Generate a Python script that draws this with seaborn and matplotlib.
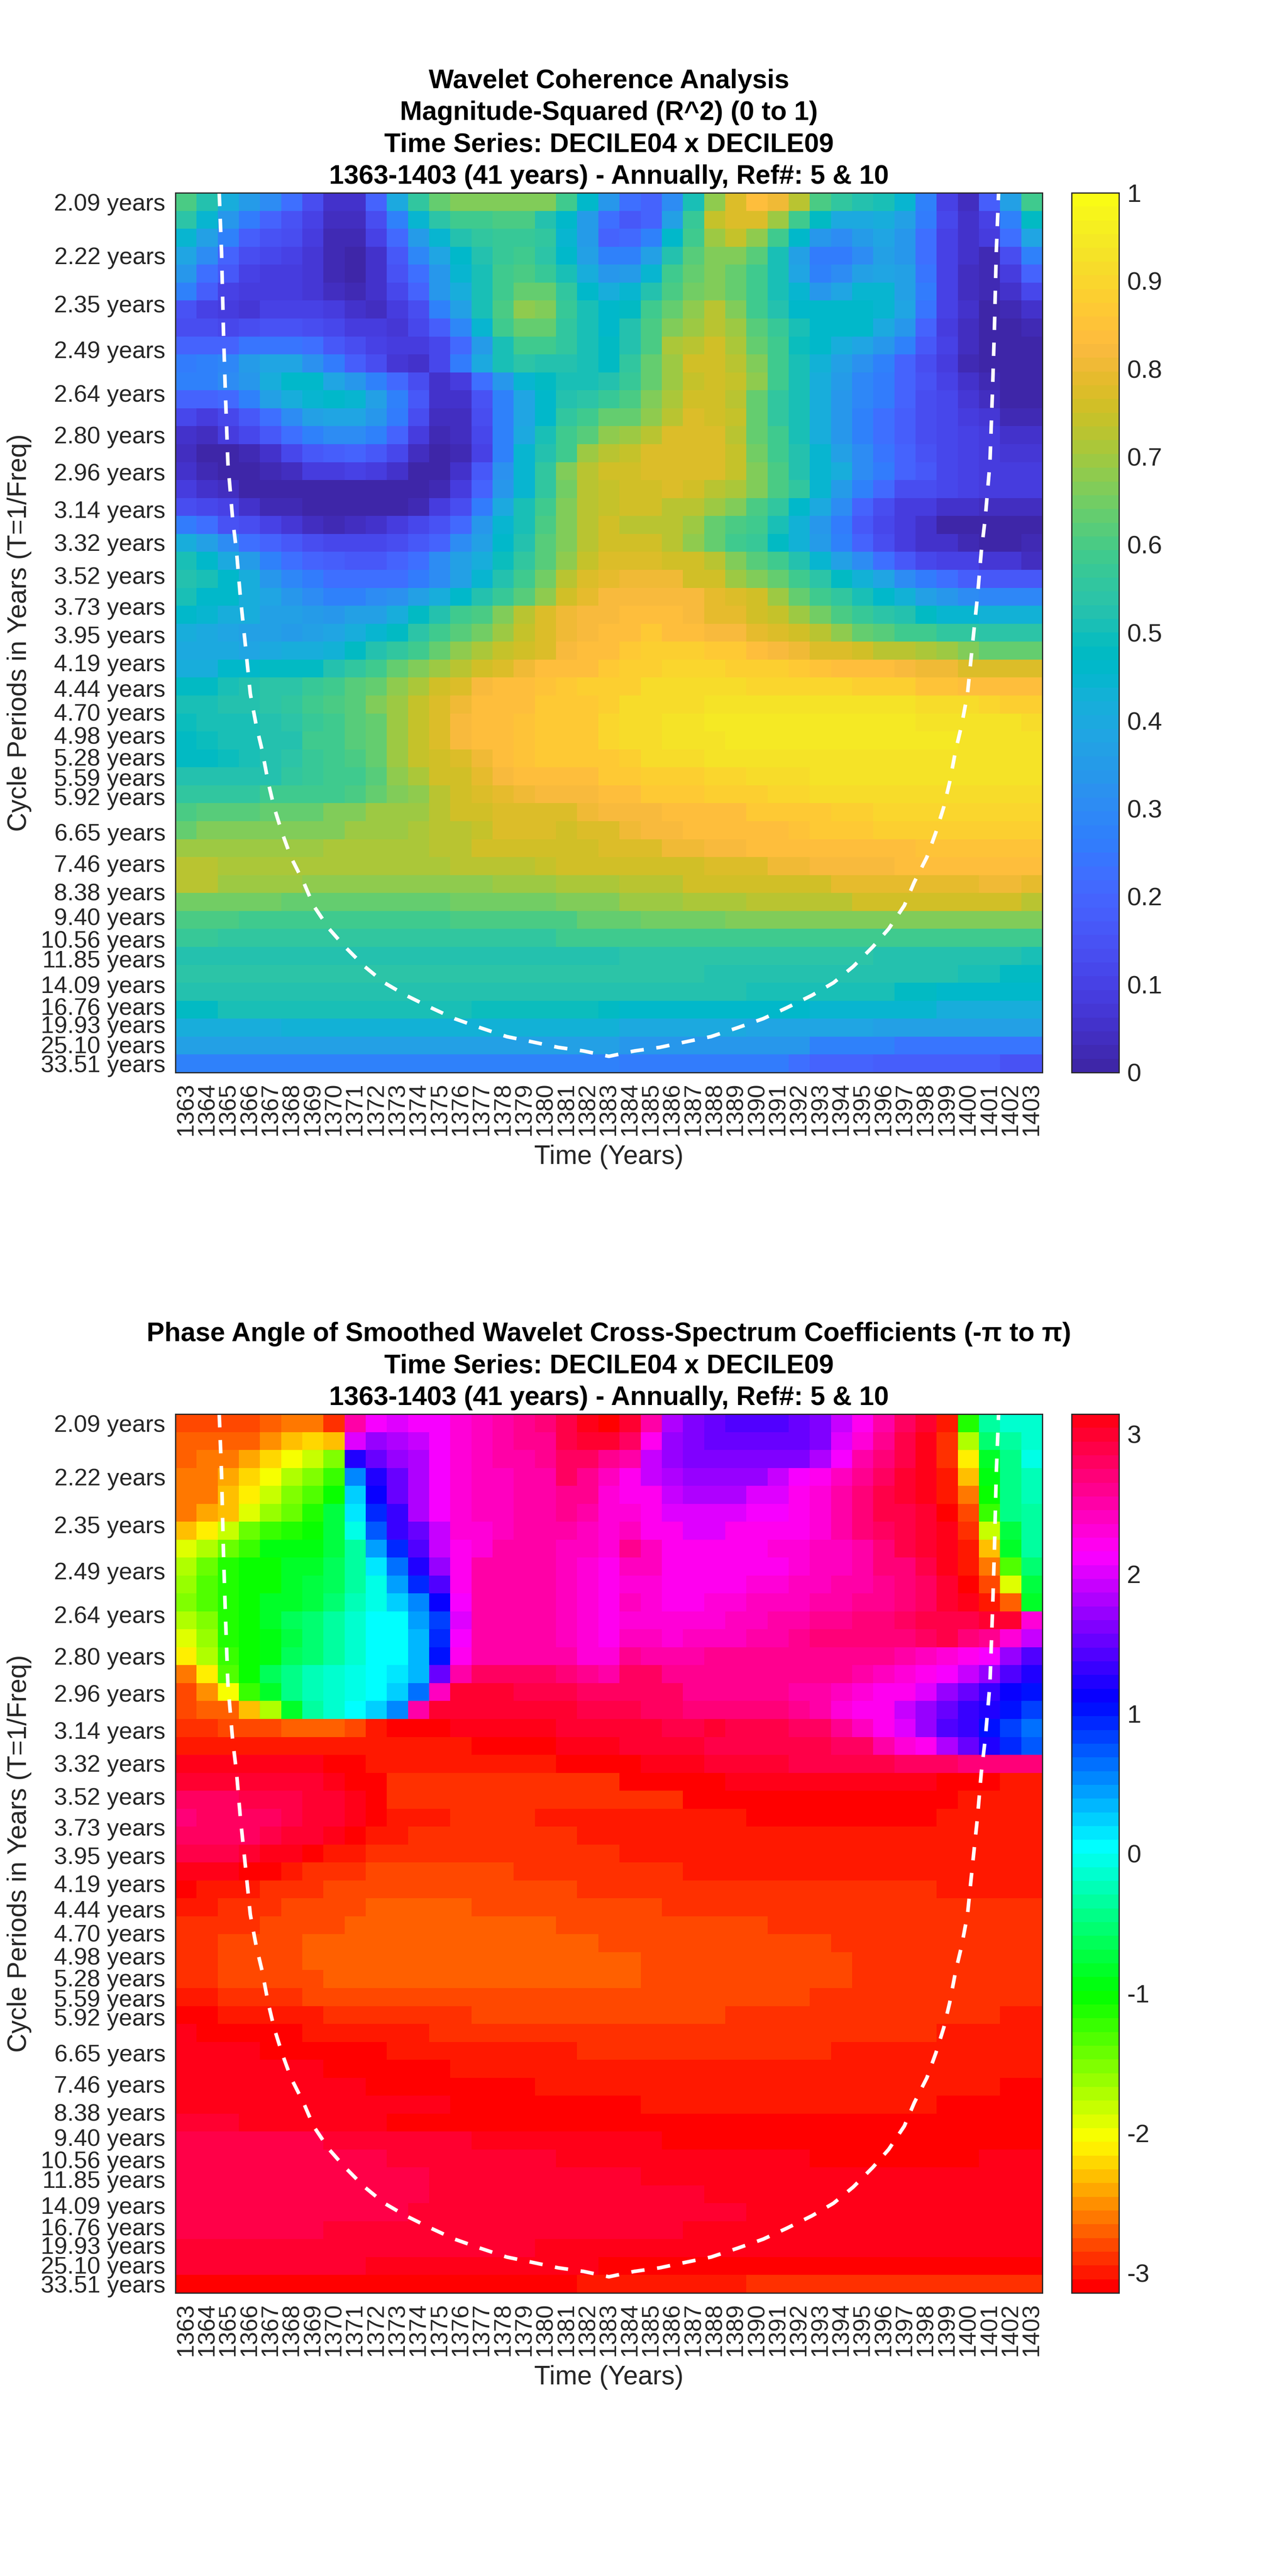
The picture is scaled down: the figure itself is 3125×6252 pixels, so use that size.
import colorsys

import matplotlib.pyplot as plt
import numpy as np
import pandas as pd
import seaborn as sns
from matplotlib.colors import ListedColormap

years = list(range(1363, 1404))

periods = [2.09, 2.22, 2.35, 2.49, 2.64, 2.80, 2.96, 3.14, 3.32, 3.52, 3.73, 3.95, 4.19, 4.44, 4.70, 4.98, 5.28,
           5.59, 5.92, 6.27, 6.65, 7.04, 7.46, 7.90, 8.38, 8.88, 9.40, 9.96, 10.56, 11.18, 11.85, 12.55, 13.30,
           14.09, 14.93, 15.82, 16.76, 17.76, 18.81, 19.93, 21.12, 22.37, 23.70, 25.10, 26.60, 28.18, 29.85,
           31.63, 33.51]
hidden_periods = [6.27, 7.04, 7.90, 8.88, 9.96, 11.18, 12.55, 13.30, 14.93, 15.82, 17.76, 18.81, 21.12, 22.37,
                  23.70, 26.60, 28.18, 29.85, 31.63]

# cone of influence (column, row)
coi_col = [2.07, 2.18, 2.27, 2.36, 2.48, 2.70, 2.89, 3.07, 3.30, 3.54, 3.82, 4.10, 4.38, 4.66, 5.03, 5.46, 6.06,
           6.53, 7.27, 8.02, 8.95, 9.88, 10.9, 12.1, 13.2, 14.4, 15.67, 16.9, 18.1, 19.3, 20.5, 21.7, 22.9, 24.1,
           25.33, 26.6, 27.8, 28.9, 30.1, 31.12, 32.05, 32.98, 33.73, 34.47, 34.94, 35.54, 35.97, 36.34, 36.62,
           36.9, 37.18, 37.46, 37.7, 37.93, 38.11, 38.3, 38.52, 38.64, 38.73, 38.82, 38.93]
coi_row = [0, 3.3, 7.7, 11.08, 15.05, 18.1, 20, 22.5, 25.1, 27.9, 29.66, 31.05, 32.8, 34.2, 35.6, 37.0, 38.4, 39.7,
           41, 42, 43.1, 44, 44.7, 45.4, 46, 46.5, 47, 47.3, 47.6, 47.8, 48.1, 47.8, 47.6, 47.3, 47, 46.5, 46, 45.4,
           44.7, 44, 43.1, 42, 41, 39.7, 38.4, 37.0, 35.6, 34.2, 32.8, 31.05, 29.66, 27.9, 25.1, 22.5, 20, 18.1,
           15.05, 11.08, 7.7, 3.3, 0]

# coherence in percent, one row per period, columns 1363-1403
coherence_pct = [
    [60,52,42,35,30,22,13,5,6,20,40,55,63,66,66,66,66,66,58,46,33,22,20,30,50,68,77,83,80,72,60,55,52,50,44,27,10,4,18,37,59],
    [54,44,34,26,20,15,10,4,4,13,28,44,54,58,59,60,60,53,46,35,22,16,20,37,57,74,77,77,70,58,47,40,40,42,36,25,11,5,10,27,48],
    [44,36,27,18,15,13,8,2,2,10,21,35,44,52,55,57,57,55,45,35,20,21,27,46,59,70,74,68,59,46,33,31,35,38,33,23,10,5,8,22,38],
    [38,30,20,14,11,10,7,3,1,6,16,29,39,46,53,57,59,54,46,37,27,27,37,52,61,67,67,61,50,37,25,25,31,37,33,22,10,5,3,14,28],
    [33,22,17,10,9,9,7,3,1,5,15,22,33,45,51,58,60,57,51,41,33,35,45,58,64,67,64,59,50,38,27,30,36,38,36,24,10,4,3,9,20],
    [27,18,10,8,8,8,7,4,2,5,11,19,33,41,51,59,63,63,55,46,42,45,53,60,65,67,64,59,51,45,33,38,45,45,37,25,10,4,2,5,11],
    [15,10,9,7,10,10,10,9,5,4,9,14,27,36,50,60,68,67,57,51,46,48,58,64,68,72,66,59,52,46,46,46,46,45,39,24,10,6,1,2,5],
    [14,14,11,14,15,15,13,12,9,8,7,11,18,29,44,58,63,63,56,50,46,52,60,67,70,72,70,61,57,50,46,46,46,40,33,20,8,4,1,1,3],
    [20,20,20,24,24,24,23,17,14,10,9,8,12,21,35,50,59,59,55,50,48,53,60,71,73,75,71,64,58,49,46,42,38,33,28,17,10,4,1,0,0],
    [26,27,29,35,38,38,32,26,18,14,7,5,12,26,40,50,54,53,52,50,48,55,63,70,75,76,72,66,59,50,43,36,32,27,20,14,9,3,1,0,0],
    [27,27,30,34,42,46,46,38,33,28,21,13,6,8,22,33,44,47,50,50,53,57,63,70,74,76,74,68,59,50,42,35,29,25,20,15,10,6,3,0,0],
    [20,20,21,28,36,42,45,46,44,36,27,16,6,5,15,28,38,46,52,54,57,60,66,71,75,75,73,64,56,50,41,34,29,25,20,14,11,7,4,1,1],
    [11,9,12,17,23,30,36,38,38,34,26,14,4,4,14,27,38,46,55,58,63,64,68,73,77,75,74,63,56,50,41,34,27,22,18,14,11,8,7,2,2],
    [5,4,8,11,17,22,28,31,31,27,19,9,3,4,12,27,40,50,58,61,68,70,72,78,78,78,73,63,59,50,42,34,27,22,18,14,12,10,8,5,5],
    [4,1,1,3,5,12,17,18,19,16,12,4,0,3,10,28,44,53,59,70,72,74,78,78,78,78,74,65,59,52,44,37,30,24,19,15,12,10,9,7,7],
    [5,2,0,0,2,4,8,9,10,8,5,1,1,6,17,32,45,55,66,73,75,75,78,78,78,78,74,67,60,52,45,41,31,25,20,16,12,10,8,8,8],
    [8,5,4,1,0,0,0,1,1,0,0,0,3,9,19,34,44,55,65,72,74,76,76,78,75,73,71,67,60,55,45,35,28,21,14,13,11,10,9,8,8],
    [14,11,10,6,3,2,0,0,0,0,0,2,9,14,26,40,51,59,66,72,74,76,76,73,72,70,66,60,55,46,40,30,20,14,9,8,6,5,4,4,4],
    [25,22,15,13,10,7,4,3,4,5,8,12,15,21,33,44,51,60,66,72,75,73,73,73,69,64,60,58,50,43,34,25,16,12,8,5,1,1,1,1,1],
    [42,36,30,23,20,16,13,12,11,11,13,16,20,30,37,46,53,61,67,72,75,76,75,72,68,63,59,57,48,43,35,28,19,13,9,6,5,2,0,0,2],
    [51,46,40,35,28,23,20,18,17,17,20,22,30,36,42,49,56,62,68,74,77,77,77,76,76,72,66,61,58,53,45,37,30,23,16,12,10,10,7,7,4],
    [53,50,46,41,34,29,26,23,22,22,23,25,30,36,45,52,59,65,72,77,79,80,80,80,76,75,70,67,63,58,54,47,43,38,31,26,22,18,16,16,16],
    [50,46,46,42,38,33,30,28,28,30,32,36,41,46,52,57,62,68,75,79,82,82,82,82,82,79,77,75,70,63,59,55,50,46,43,37,34,30,29,29,29],
    [46,45,42,42,37,36,35,34,36,37,42,47,52,59,60,66,73,77,81,82,82,83,83,83,82,79,79,76,74,69,65,60,57,54,52,48,45,45,43,43,43],
    [41,40,38,37,36,35,37,39,42,45,47,54,58,61,65,69,74,77,80,82,83,84,86,84,83,82,82,79,77,76,72,68,63,61,59,58,56,56,54,54,54],
    [40,40,40,39,40,41,42,43,47,52,55,59,63,68,71,74,76,78,82,83,84,86,88,88,88,86,86,83,82,81,78,77,76,73,73,71,69,67,64,64,64],
    [42,42,46,46,47,47,48,53,56,59,63,66,70,73,76,78,81,83,83,84,86,89,89,90,90,90,88,88,88,86,85,84,83,83,82,81,80,78,78,78,78],
    [47,48,50,52,54,54,57,59,61,64,68,71,75,78,82,83,83,85,86,88,89,89,92,92,92,92,92,90,90,90,90,90,89,89,88,85,85,84,83,83,83],
    [50,50,52,53,54,56,58,60,62,66,70,74,77,81,83,83,84,86,86,86,89,92,92,92,92,93,93,93,93,93,93,93,93,93,93,92,92,92,90,89,89],
    [49,50,50,51,53,54,57,59,61,64,70,74,77,82,83,83,85,86,86,87,90,92,92,93,93,94,94,95,95,95,95,95,95,95,95,93,93,93,93,93,92],
    [47,49,50,51,53,53,58,59,61,64,70,74,77,82,83,84,85,86,87,86,90,92,92,93,93,93,94,95,95,95,95,95,95,94,94,94,94,93,93,93,93],
    [47,47,49,51,52,54,57,59,60,64,69,74,76,78,81,83,85,86,86,86,86,89,92,92,92]+[93]*16,
    [52,52,52,53,53,55,57,58,59,62,68,71,75,76,79,82,83,83,84,84,86,86,89,89,89,90,90,92,92,92]+[93]*11,
    [56,56,56,56,58,59,59,59,60,63,67,68,73,76,78,79,80,82,82,82,83,83,86,86,86,88,88,89,90,90,92,92,92]+[92]*8,
    [60,62,62,62,64,64,64,66,66,69,69,70,72,76,76,78,77,78,78,80,82,82,82,83,84,84,84,86,86,86,86,88,88]+[90]*8,
    [64,67,67,67,67,67,67,67,69,69,70,71,72,73,74,77,77,77,76,78,78,80,82,82,83,83,84,84,84,85,86,86,86]+[88]*8,
    [70,70,70,70,70,69,69,71,71,71,71,71,72,72,75,75,76,76,76,76,78,78,78,80,80,82,82,83,83,83,83,84,84,84,84]+[85]*6,
    [73,73,71,71,71,71,71,71,71,71,71,71,71,72,72,73,73,74,75,75,75,75,75,76,76,78,78,78,80,80,82,82,82,82,83,83,83,83,83,83,83],
    [72,72,70,70,70,69,68,68,68,68,68,68,68,68,68,69,70,70,71,71,71,73,73,73,75,75,75,76,76,76,76,79,79,79,79,79,79,79,81,81,79],
    [65,65,65,65,65,64,64,64,64,64,64,64,64,65,65,65,65,65,67,67,67,69,69,69,71,71,71,73,73,73,73,73,75,75,75,75,75,75,75,75,73],
    [60,60,60,59,59,59,59,59,59,59,59,59,59,60,60,60,60,60,60,63,63,63,65,65,65,65]+[67]*15,
    [57,57,56,56,56,56,56,56,56,56,56,56,56,56,56,56,56,56,58,59,59]+[59]*17+[58]*3,
    [52]*5+[53]*16+[54]*12+[53]*5+[52,52,50],
    [54]*21+[54]*4+[53]*9+[52]*3+[51]*2+[48]*2,
    [53]*21+[53]*4+[52]*2+[51]*3+[50]*4+[48]*2+[46]*5,
    [48,48]+[50]*5+[51]*7+[49]*6+[47]+[46]*9+[45]*5+[44]+[41]*5,
    [42]*5+[43]*16+[40]*6+[39]*6+[37]*2+[36]*6,
    [36]*21+[34]*4+[33]*5+[28]*4+[24]*7,
    [27]*21+[25]*8+[22]+[20]*3+[18]*6+[15]*2,
]

# phase read as the colour step it falls on, 64 steps from -pi to pi
phase_steps = [
    [3,3,3,3,4,5,5,2,57,53,52,53,53,55,56,57,58,59,61,63,0,62,57,50,48,47,46,46,46,47,48,51,54,57,60,62,1,20,28,30,30],
    [4,4,4,4,6,8,9,8,52,49,50,51,53,55,56,57,58,58,61,62,62,60,54,49,48,47,47,47,47,47,48,52,55,58,61,63,2,14,26,28,30],
    [4,5,5,7,9,11,13,16,44,47,49,50,53,55,56,57,57,58,60,60,58,57,51,49,48,48,48,48,48,48,50,53,57,59,61,63,2,10,23,27,31],
    [5,5,7,9,11,14,16,19,37,44,47,50,53,55,56,56,57,57,60,58,56,54,51,50,49,49,49,49,51,53,54,56,58,60,62,63,1,8,22,27,29],
    [5,5,8,10,13,16,18,21,34,43,47,50,53,55,56,56,57,57,58,58,55,54,54,51,50,50,50,52,52,54,55,57,59,61,62,63,1,5,21,27,29],
    [5,7,8,12,15,17,20,24,33,41,45,50,53,55,56,56,57,57,58,57,55,55,54,52,52,52,52,53,53,54,55,57,59,61,61,62,0,3,19,27,28],
    [8,10,13,17,19,20,21,24,31,39,45,47,51,55,55,56,57,57,57,56,55,56,54,54,52,52,54,54,54,54,55,57,59,60,61,62,63,2,13,24,28],
    [12,14,17,19,22,22,22,24,28,36,41,46,51,54,55,57,57,57,56,56,55,58,56,54,54,54,54,54,55,55,56,56,57,59,61,62,63,1,8,23,28],
    [14,17,20,21,21,23,23,25,28,33,38,44,49,54,57,57,57,57,56,55,54,56,56,54,54,54,54,54,54,55,56,56,57,59,59,61,63,1,5,18,26],
    [15,18,20,21,21,23,24,25,28,31,36,41,46,54,57,57,57,57,56,55,54,55,55,54,54,54,54,55,55,56,56,57,57,58,59,60,62,0,3,12,24],
    [16,18,20,21,23,23,24,26,29,31,34,37,43,53,57,57,57,57,56,55,54,56,55,54,54,55,55,56,56,56,57,57,58,58,59,60,62,63,1,4,23],
    [14,16,20,21,23,25,26,28,30,32,32,36,40,52,57,57,57,57,56,55,54,55,55,55,55,55,56,56,57,57,58,58,59,59,60,61,61,61,62,62,55],
    [12,15,20,21,22,24,26,28,30,32,32,35,41,53,57,57,57,57,56,55,54,56,56,55,56,56,56,57,57,58,59,59,59,59,59,60,61,59,58,55,51],
    [10,14,19,21,22,25,26,28,30,32,32,35,42,54,57,57,57,57,57,55,55,58,57,57,57,58,58,58,58,58,58,58,58,58,57,56,55,54,53,49,46],
    [5,10,18,21,25,27,29,30,31,32,33,35,47,57,60,60,60,60,59,58,57,60,60,58,58,58,58,58,58,58,58,58,57,56,55,54,53,51,49,46,44],
    [3,6,11,19,23,27,29,30,31,32,34,38,56,62,62,62,61,61,61,60,60,60,60,60,58,58,58,58,58,57,57,56,55,54,54,52,49,47,45,43,42],
    [3,4,4,8,14,23,28,30,32,34,37,57,62,62,62,62,62,62,62,61,61,61,60,60,59,59,59,59,59,58,57,55,54,54,51,49,47,45,44,42,40],
    [2,2,3,3,3,4,4,4,3,1,0,0,0,63,63,63,63,63,62,62,62,62,62,61,61,62,61,61,61,60,60,58,56,54,52,49,46,45,42,40,38],
    [1]*14+[0]*4+[63]*3+[62,62,62,62,61,61,61,61,61,61,60,60,57,55,54,50,47,44,41,39],
    [63]*7+[0]*2+[1]*9+[0]*3+[0]+[63]*3+[62]*4+[61]*5+[60]*3+[59]*4,
    [62]*7+[63]+[0]*2+[2]*11+[0]*5+[63]*10+[0]*3+[1]*2,
    [60]*3+[61]*3+[62]*2+[63]+[0]+[2]*11+[2]*3+[0]*13+[1]*4,
    [59]+[60]*4+[61]+[62]*2+[63]+[0]+[1]*3+[2]*4+[1]*4+[1]*6+[0]*9+[1]*5,
    [60]*4+[61]+[62]*2+[63]+[0]+[1]*2+[2]*8+[1]*2+[1]*20,
    [61]*3+[62]+[63]*2+[0]+[1]*2+[2]*12+[1]*20,
    [63]*3+[0]*2+[1]+[2]*3+[3]*7+[2]*5+[2]*3+[1]*17,
    [0]+[1]*3+[2]*3+[3]*12+[2]*2+[2]*15+[1]*5,
    [1]*2+[2]*3+[3]*4+[4]*5+[3]*7+[3]*2+[2]*18,
    [2]*4+[3]*4+[4]*10+[3]*3+[3]*7+[2]*13,
    [2]*2+[3]*4+[4]*14+[3]+[3]*10+[2]*10,
    [2]*2+[3]*4+[4]*15+[4]+[3]*10+[2]*9,
    [2]*2+[3]*5+[4]*14+[4]+[3]*10+[2]*9,
    [1]*2+[2]*4+[3]*15+[3]*9+[2]*11,
    [0]*2+[1]*5+[2]*7+[3]*7+[3]*5+[2]*13+[1]*2,
    [63]+[0]*5+[1]*6+[2]*9+[2]*15+[1]*5,
    [63]*4+[0]*6+[1]*9+[2]*2+[2]*10+[1]*10,
    [63]*7+[0]*6+[1]*8+[1]*20,
    [63]*9+[0]*8+[1]*4+[1]*18+[0]*2,
    [63]*13+[0]*8+[0]+[1]*14+[0]*5,
    [62]*3+[63]*7+[0]*11+[0]*20,
    [61]*7+[62]*7+[63]*7+[63]*2+[0]*18,
    [61]*10+[62]*8+[63]*3+[63]*9+[0]*8+[63]*3,
    [61]*12+[62]*9+[62]+[63]*19,
    [61]*12+[62]*9+[62]*4+[63]*16,
    [61]*11+[62]*10+[62]*6+[63]*14,
    [61]*7+[62]*14+[62]*3+[63]*17,
    [62]*17+[63]*4+[63]*20,
    [62]*9+[63]*11+[0]+[0]*20,
    [0]*19+[1]*2+[1]*6+[2]*14,
]

parula_64 = [
    [0.2422,0.1504,0.6603],[0.2504,0.1650,0.7076],[0.2578,0.1818,0.7511],[0.2647,0.1978,0.7952],
    [0.2706,0.2147,0.8364],[0.2751,0.2342,0.8710],[0.2783,0.2559,0.8991],[0.2803,0.2782,0.9221],
    [0.2813,0.3006,0.9414],[0.2810,0.3228,0.9579],[0.2795,0.3447,0.9717],[0.2760,0.3667,0.9829],
    [0.2699,0.3892,0.9906],[0.2602,0.4123,0.9952],[0.2440,0.4358,0.9988],[0.2206,0.4603,0.9973],
    [0.1963,0.4847,0.9892],[0.1834,0.5074,0.9798],[0.1786,0.5289,0.9682],[0.1764,0.5499,0.9520],
    [0.1687,0.5703,0.9359],[0.1540,0.5902,0.9218],[0.1460,0.6091,0.9079],[0.1380,0.6276,0.8973],
    [0.1248,0.6459,0.8883],[0.1113,0.6635,0.8763],[0.0952,0.6798,0.8598],[0.0689,0.6948,0.8394],
    [0.0297,0.7082,0.8163],[0.0036,0.7203,0.7917],[0.0067,0.7312,0.7660],[0.0433,0.7411,0.7394],
    [0.0964,0.7500,0.7120],[0.1408,0.7584,0.6842],[0.1717,0.7670,0.6554],[0.1938,0.7758,0.6251],
    [0.2161,0.7843,0.5923],[0.2470,0.7918,0.5567],[0.2906,0.7973,0.5188],[0.3406,0.8008,0.4789],
    [0.3909,0.8029,0.4354],[0.4456,0.8024,0.3909],[0.5044,0.7993,0.3480],[0.5616,0.7942,0.3045],
    [0.6174,0.7876,0.2612],[0.6720,0.7793,0.2227],[0.7242,0.7698,0.1910],[0.7738,0.7598,0.1646],
    [0.8203,0.7498,0.1535],[0.8634,0.7406,0.1596],[0.9035,0.7330,0.1774],[0.9393,0.7288,0.2100],
    [0.9728,0.7298,0.2394],[0.9956,0.7434,0.2371],[0.9970,0.7659,0.2199],[0.9952,0.7893,0.2028],
    [0.9892,0.8136,0.1885],[0.9786,0.8386,0.1766],[0.9676,0.8639,0.1643],[0.9610,0.8890,0.1537],
    [0.9597,0.9135,0.1423],[0.9628,0.9373,0.1265],[0.9691,0.9606,0.1064],[0.9769,0.9839,0.0805],
]

DARK = "#262626"
W, H = 3125, 6252

sns.set_theme(style="ticks")
plt.rcParams["font.family"] = ["Liberation Sans", "DejaVu Sans"]

parula = ListedColormap(parula_64)
hsv = ListedColormap([colorsys.hsv_to_rgb(k / 64, 1, 1) for k in range(64)])

coherence = pd.DataFrame(np.array(coherence_pct) / 100, index=periods, columns=years)
phase = pd.DataFrame((np.array(phase_steps) + 0.5) / 64 * 2 * np.pi - np.pi, index=periods, columns=years)

# y ticks sit on a scale linear in frequency, the cells do not
freq = 1 / np.array(periods)
tick_pos = 0.5 + 48 * (freq[0] - freq) / (freq[0] - freq[-1])
tick_labels = ["" if p in hidden_periods else f"{p:.2f} years" for p in periods]


def draw_panel(fig, top, bottom, data, cmap, vmin, vmax, title, cbar_ticks, cbar_labels):
    ax = fig.add_axes([426 / W, 1 - bottom / H, 2105 / W, (bottom - top) / H])
    cax = fig.add_axes([2602 / W, 1 - bottom / H, 115 / W, (bottom - top) / H])
    sns.heatmap(data, ax=ax, cbar_ax=cax, cmap=cmap, vmin=vmin, vmax=vmax, xticklabels=years, yticklabels=False)

    ax.plot(np.array(coi_col), np.array(coi_row), color="white", lw=2.1, linestyle=(0, (3.7, 3.5)))
    ax.set_xlim(0, 41)
    ax.set_ylim(49, 0)

    ax.set_yticks(tick_pos, tick_labels)
    ax.set_xticks(np.arange(41) + 0.5, years, rotation=90)
    ax.tick_params(axis="both", direction="in", length=5, width=0.7, color=DARK, labelcolor=DARK,
                   labelsize=13.9, top=True, right=True, pad=5.8)
    for spine in ax.spines.values():
        spine.set_visible(True)
        spine.set_linewidth(0.7)
        spine.set_color(DARK)

    ax.set_xlabel("Time (Years)", fontsize=15.4, color=DARK, va="center")
    ax.xaxis.set_label_coords(0.5, -0.096)
    ax.set_ylabel("Cycle Periods in Years (T=1/Freq)", fontsize=15.4, color=DARK, va="center")
    ax.yaxis.set_label_coords(-0.18, 0.5)
    ax.set_title(title, fontsize=15.5, fontweight="bold", color="black", pad=5.3, linespacing=1.37)

    cbar = ax.collections[0].colorbar
    cbar.set_ticks(cbar_ticks, labels=cbar_labels)
    cbar.ax.tick_params(direction="in", length=5, width=0.7, color=DARK, labelcolor=DARK, labelsize=14.8, pad=4.6)
    cbar.outline.set_visible(True)
    cbar.outline.set_linewidth(0.7)
    cbar.outline.set_edgecolor(DARK)


fig = plt.figure(figsize=(W / 300, H / 300), dpi=300)

draw_panel(fig, 468, 2603, coherence, parula, 0, 1,
           "Wavelet Coherence Analysis\nMagnitude-Squared (R^2) (0 to 1)\n"
           "Time Series: DECILE04 x DECILE09\n1363-1403 (41 years) - Annually, Ref#: 5 & 10",
           np.arange(0, 11) / 10, ["0", "0.1", "0.2", "0.3", "0.4", "0.5", "0.6", "0.7", "0.8", "0.9", "1"])

draw_panel(fig, 3432, 5565, phase, hsv, -np.pi, np.pi,
           "Phase Angle of Smoothed Wavelet Cross-Spectrum Coefficients (-π to π)\n"
           "Time Series: DECILE04 x DECILE09\n1363-1403 (41 years) - Annually, Ref#: 5 & 10",
           np.arange(-3, 4), ["-3", "-2", "-1", "0", "1", "2", "3"])

fig.savefig("out.png", dpi=300, facecolor="white")
